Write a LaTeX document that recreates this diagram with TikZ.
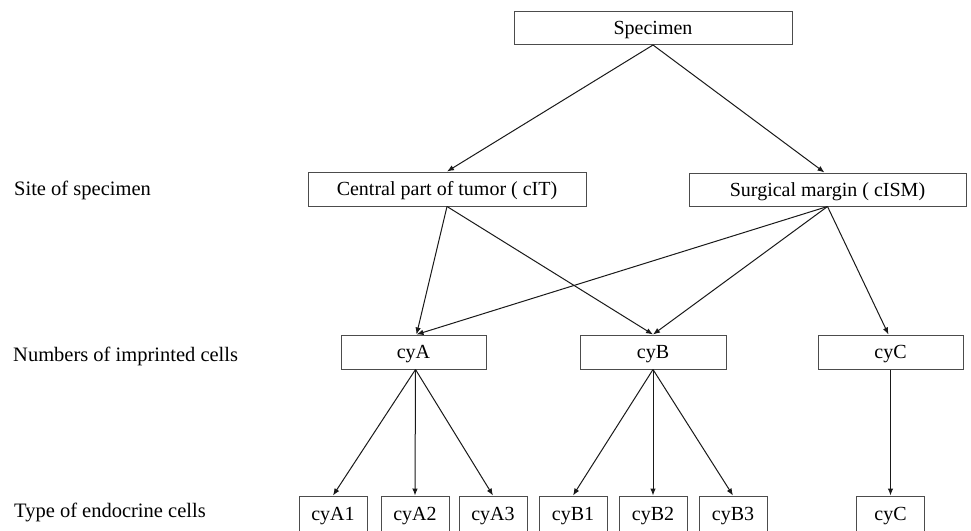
\documentclass[tikz,border=0pt]{standalone}
\usepackage{fontspec}
\setmainfont{Liberation Serif}
\usetikzlibrary{arrows.meta}
\begin{document}
\begin{tikzpicture}[x=1pt,y=-1pt,
  box/.style={draw=black!70, line width=1pt, inner sep=0pt, text height=13.5pt, text depth=0pt, font=\fontsize{20}{22}\selectfont},
  lbl/.style={anchor=west, inner sep=0pt, text height=13.5pt, text depth=0pt, font=\fontsize{20.5}{23}\selectfont},
  arr/.style={draw=black!90, line width=1pt, -{Latex[length=7pt,width=5.5pt]}}]
\useasboundingbox (0,0) rectangle (971,530);
\clip (0,0) rectangle (971,530);
% labels
\node[lbl] (l1) at (14,189) {Site of specimen};
\node[lbl] (l2) at (13,355) {Numbers of imprinted cells};
\node[lbl] (l3) at (14,511) {Type of endocrine cells};
% boxes
\node[box, minimum width=278pt, minimum height=33pt] (spec) at (653,28) {Specimen};
\node[box, minimum width=278pt, minimum height=34pt] (cit) at (447,189) {Central part of tumor ( cIT)};
\node[box, minimum width=277pt, minimum height=33pt] (csm) at (827.5,189.5) {Surgical margin ( cISM)};
\node[box, minimum width=145pt, minimum height=34pt] (cyA) at (413.5,352) {cyA};
\node[box, minimum width=146pt, minimum height=34pt] (cyB) at (653,352) {cyB};
\node[box, minimum width=145pt, minimum height=34pt] (cyC) at (890.5,352) {cyC};
\foreach \n/\x/\t in {a1/333/cyA1, a2/415/cyA2, a3/493/cyA3, b1/573/cyB1, b2/653/cyB2, b3/733/cyB3, c1/890.5/cyC}
  \node[box, minimum width=68pt, minimum height=36pt] (\n) at (\x,514) {\t};
% connectors
\draw[arr] (spec.south) -- (cit.north);
\draw[arr] (spec.south) -- ([xshift=-3pt]csm.north);
\draw[arr] (cit.south) -- ([xshift=3pt]cyA.north);
\draw[arr] (cit.south) -- (cyB.north);
\draw[arr] (csm.south) -- ([xshift=3pt]cyA.north);
\draw[arr] (csm.south) -- (cyB.north);
\draw[arr] (csm.south) -- ([xshift=-2pt]cyC.north);
\draw[arr] ([xshift=2pt]cyA.south) -- (a1.north);
\draw[arr] ([xshift=2pt]cyA.south) -- (a2.north);
\draw[arr] ([xshift=2pt]cyA.south) -- (a3.north);
\draw[arr] (cyB.south) -- (b1.north);
\draw[arr] (cyB.south) -- (b2.north);
\draw[arr] (cyB.south) -- (b3.north);
\draw[arr] (cyC.south) -- (c1.north);
\end{tikzpicture}
\end{document}
